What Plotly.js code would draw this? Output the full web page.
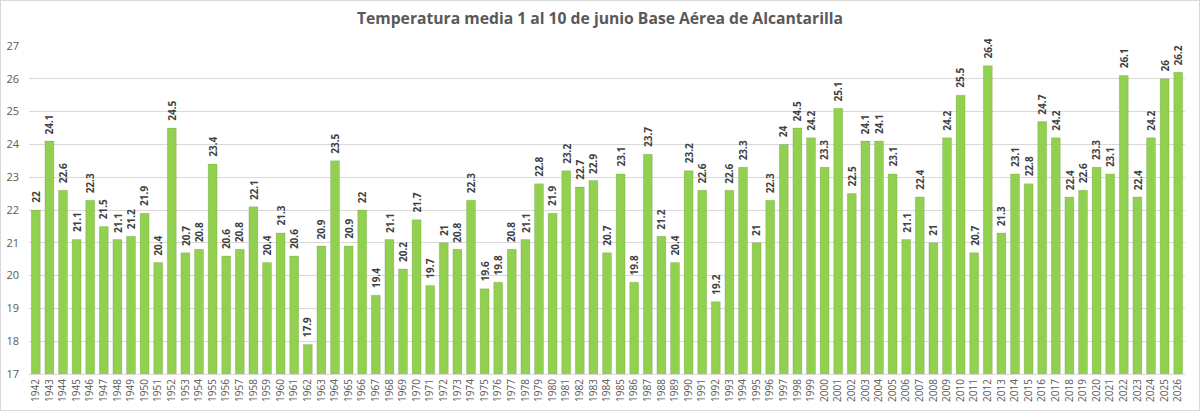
<!DOCTYPE html>
<html>
<head>
<meta charset="utf-8">
<script src="https://cdn.plot.ly/plotly-3.0.1.min.js"></script>
<style>
  html, body { margin: 0; padding: 0; background: #fff; }
  #chart { width: 1198px; height: 409px; border: 1px solid #d9d9d9; }
</style>
</head>
<body>
<div id="chart"></div>
<script>
const years = [];
for (let y = 1942; y <= 2026; y++) years.push(String(y));

const temps = [
  22, 24.1, 22.6, 21.1, 22.3, 21.5, 21.1, 21.2, 21.9, 20.4,
  24.5, 20.7, 20.8, 23.4, 20.6, 20.8, 22.1, 20.4, 21.3, 20.6,
  17.9, 20.9, 23.5, 20.9, 22, 19.4, 21.1, 20.2, 21.7, 19.7,
  21, 20.8, 22.3, 19.6, 19.8, 20.8, 21.1, 22.8, 21.9, 23.2,
  22.7, 22.9, 20.7, 23.1, 19.8, 23.7, 21.2, 20.4, 23.2, 22.6,
  19.2, 22.6, 23.3, 21, 22.3, 24, 24.5, 24.2, 23.3, 25.1,
  22.5, 24.1, 24.1, 23.1, 21.1, 22.4, 21, 24.2, 25.5, 20.7,
  26.4, 21.3, 23.1, 22.8, 24.7, 24.2, 22.4, 22.6, 23.3, 23.1,
  26.1, 22.4, 24.2, 26, 26.2
];

const yTicks = [17, 18, 19, 20, 21, 22, 23, 24, 25, 26, 27];

const trace = {
  type: "bar",
  x: years,
  y: temps,
  marker: { color: "#92d050", line: { color: "rgba(0,0,0,0.10)", width: 1 } },
  hoverinfo: "x+y",
};

// value labels above each bar (x = category index), rotated like the original
const labels = temps.map((v, i) => ({
  x: i,
  y: v,
  xref: "x",
  yref: "y",
  text: String(v),
  showarrow: false,
  textangle: -90,
  xanchor: "center",
  yanchor: "bottom",
  yshift: 5,
  font: { family: "Open Sans, sans-serif", size: 10, color: "#404040", weight: "bold" },
}));

const layout = {
  width: 1198,
  height: 409,
  margin: { l: 28, r: 14, t: 45, b: 36, pad: 0 },
  paper_bgcolor: "#ffffff",
  plot_bgcolor: "#ffffff",
  showlegend: false,
  bargap: 0.34,
  annotations: labels,
  title: {
    text: "<b>Temperatura media 1 al 10 de junio Base Aérea de Alcantarilla</b>",
    font: { family: "Open Sans, sans-serif", size: 15.7, color: "#595959" },
    x: 0.5,
    xanchor: "center",
    y: 0.958,
    yanchor: "middle",
  },
  xaxis: {
    type: "category",
    range: [-0.5, years.length - 0.5],
    tickangle: -90,
    tickfont: { family: "Open Sans, sans-serif", size: 10, color: "#595959" },
    showgrid: false,
    showline: true,
    linecolor: "#d9d9d9",
    ticks: "",
    fixedrange: true,
  },
  yaxis: {
    range: [17, 27],
    tickvals: yTicks,
    tickfont: { family: "Open Sans, sans-serif", size: 11, color: "#595959" },
    ticklabelstandoff: 9,
    showgrid: true,
    gridcolor: "#d9d9d9",
    zeroline: false,
    showline: false,
    ticks: "",
    fixedrange: true,
  },
};

Plotly.newPlot("chart", [trace], layout, { displayModeBar: false, responsive: false });
</script>
</body>
</html>
